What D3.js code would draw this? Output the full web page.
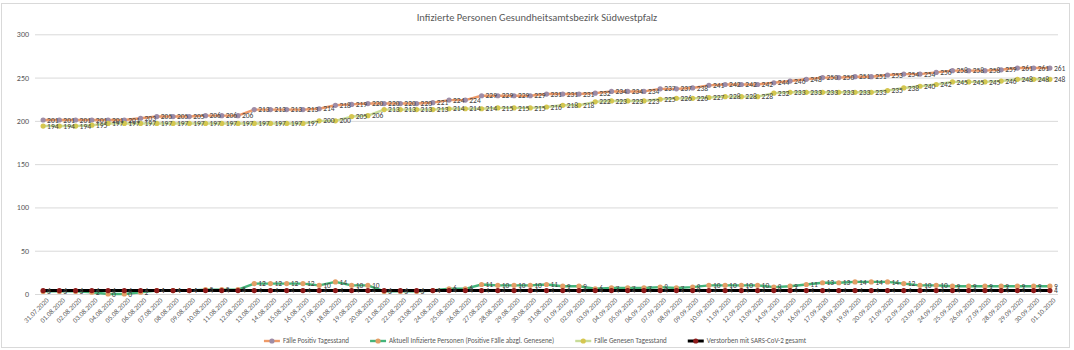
<!DOCTYPE html>
<html>
<head>
<meta charset="utf-8">
<script src="https://cdn.jsdelivr.net/npm/d3@7"></script>
<style>
  body { margin: 0; background: #fff; }
  svg { display: block; font-family: Calibri, Carlito, Lato, "Open Sans", sans-serif; }
</style>
</head>
<body>
<svg id="chart" width="1074" height="350"></svg>
<script>
// Reporting days
const dates = [
  "31.07.2020","01.08.2020","02.08.2020","03.08.2020","04.08.2020","05.08.2020","06.08.2020","07.08.2020",
  "08.08.2020","09.08.2020","10.08.2020","11.08.2020","12.08.2020","13.08.2020","14.08.2020","15.08.2020",
  "16.08.2020","17.08.2020","18.08.2020","19.08.2020","20.08.2020","21.08.2020","22.08.2020","23.08.2020",
  "24.08.2020","25.08.2020","26.08.2020","27.08.2020","28.08.2020","29.08.2020","30.08.2020","31.08.2020",
  "01.09.2020","02.09.2020","03.09.2020","04.09.2020","05.09.2020","06.09.2020","07.09.2020","08.09.2020",
  "09.09.2020","10.09.2020","11.09.2020","12.09.2020","13.09.2020","14.09.2020","15.09.2020","16.09.2020",
  "17.09.2020","18.09.2020","19.09.2020","20.09.2020","21.09.2020","22.09.2020","23.09.2020","24.09.2020",
  "25.09.2020","26.09.2020","27.09.2020","28.09.2020","29.09.2020","30.09.2020","01.10.2020"
];

const yTicks = [0, 50, 100, 150, 200, 250, 300];

const faellePositiv = [
  201,201,201,201,201,201,203,205,205,205,206,206,206,213,213,213,213,214,218,219,220,
  220,220,220,221,224,224,229,229,229,229,231,231,231,232,234,234,234,237,237,238,241,
  242,242,242,244,246,248,250,250,251,251,253,254,254,256,258,258,258,259,261,261,261
];

const aktuellInfiziert = [
  3,3,3,2,0,0,2,4,4,4,5,5,5,12,12,12,12,10,14,10,10,
  3,3,3,4,6,6,11,10,10,10,11,9,9,6,7,7,7,8,7,8,10,
  10,10,10,8,9,11,13,13,14,14,14,12,10,10,9,9,9,9,9,9,9
];

const faelleGenesen = [
  194,194,194,195,197,197,197,197,197,197,197,197,197,197,197,197,197,200,200,205,206,
  213,213,213,213,214,214,214,215,215,215,216,218,218,222,223,223,223,225,226,226,227,
  228,228,228,232,233,233,233,233,233,233,235,238,240,242,245,245,245,246,248,248,248
];

const verstorben = [
  4,4,4,4,4,4,4,4,4,4,4,4,4,4,4,4,4,4,4,4,4,
  4,4,4,4,4,4,4,4,4,4,4,4,4,4,4,4,4,4,4,4,4,
  4,4,4,4,4,4,4,4,4,4,4,4,4,4,4,4,4,4,4,4,4
];

const seriesNames = [
  "Fälle Positiv Tagesstand",
  "Aktuell Infizierte Personen (Positive Fälle abzgl. Genesene)",
  "Fälle Genesen Tagesstand",
  "Verstorben mit SARS-CoV-2 gesamt"
];

const chartTitle = "Infizierte Personen Gesundheitsamtsbezirk Südwestpfalz";

const series = [
  { name: seriesNames[0], values: faellePositiv,    line: "#EE9A68", marker: "#9E8CA6", width: 2.4 },
  { name: seriesNames[1], values: aktuellInfiziert, line: "#44B47A", marker: "#E39E66", width: 2.4 },
  { name: seriesNames[2], values: faelleGenesen,    line: "#C8DC98", marker: "#D5C650", width: 2.4 },
  { name: seriesNames[3], values: verstorben,       line: "#000000", marker: "#8E1B1B", width: 3 }
];

const svg = d3.select("#chart");
const textColor = "#595959";

// outer chart frame
svg.append("rect")
  .attr("x", 1.5).attr("y", 3.5)
  .attr("width", 1068).attr("height", 344)
  .attr("fill", "#fff").attr("stroke", "#d9d9d9");

const x = d3.scalePoint().domain(dates).range([35, 1058]).padding(0.5);
const y = d3.scaleLinear().domain([0, 300]).range([294, 34.3]);

// title
svg.append("text")
  .attr("x", 537).attr("y", 21)
  .attr("text-anchor", "middle")
  .attr("font-size", 10.5)
  .attr("fill", textColor)
  .text(chartTitle);

// gridlines + y axis labels
const yAxis = d3.axisLeft(y).tickValues(yTicks).tickSize(-1023).tickPadding(6);
const gy = svg.append("g").attr("transform", "translate(35,0)").call(yAxis);
gy.select(".domain").remove();
gy.selectAll(".tick line").attr("stroke", "#d9d9d9").attr("stroke-width", 1);
gy.selectAll(".tick text").attr("fill", textColor).attr("font-size", 8)
  .attr("font-family", "Calibri, Carlito, Lato, sans-serif");

// x axis labels (rotated)
const xAxis = d3.axisBottom(x).tickSize(0).tickPadding(0);
const gx = svg.append("g").attr("transform", "translate(0,294)").call(xAxis);
gx.select(".domain").remove();
gx.selectAll(".tick text")
  .attr("fill", textColor)
  .attr("font-size", 7)
  .attr("font-family", "Calibri, Carlito, Lato, sans-serif")
  .attr("text-anchor", "end")
  .attr("dy", "0.35em")
  .attr("transform", "translate(4,5) rotate(-45)");

// lines and markers
const lineGen = (vals) => d3.line()
  .x((d, i) => x(dates[i]))
  .y(d => y(d))(vals);

series.forEach(s => {
  svg.append("path")
    .attr("d", lineGen(s.values))
    .attr("fill", "none")
    .attr("stroke", s.line)
    .attr("stroke-width", s.width)
    .attr("stroke-linejoin", "round");
  svg.append("g").selectAll("circle")
    .data(s.values)
    .join("circle")
    .attr("cx", (d, i) => x(dates[i]))
    .attr("cy", d => y(d))
    .attr("r", 2.6)
    .attr("fill", s.marker);
});

// data labels
series.forEach(s => {
  svg.append("g").selectAll("text")
    .data(s.values)
    .join("text")
    .attr("x", (d, i) => x(dates[i]) + 4)
    .attr("y", d => y(d))
    .attr("dy", "0.35em")
    .attr("font-size", 7.5)
    .attr("fill", "#404040")
    .text(d => d);
});

// legend
const legend = svg.append("g");
const legendY = 341;
let items = [];
series.forEach(s => {
  const g = legend.append("g");
  g.append("line").attr("x1", 0).attr("x2", 16).attr("y1", 0).attr("y2", 0)
    .attr("stroke", s.line).attr("stroke-width", s.width);
  g.append("circle").attr("cx", 8).attr("cy", 0).attr("r", 2.6).attr("fill", s.marker);
  const t = g.append("text").attr("x", 19).attr("y", 0).attr("dy", "0.35em")
    .attr("font-size", 7).attr("fill", textColor).text(s.name);
  items.push({ g, w: 19 + t.node().getComputedTextLength() });
});
const gap = 21;
const total = d3.sum(items, d => d.w) + gap * (items.length - 1);
let lx = 535 - total / 2;
items.forEach(it => {
  it.g.attr("transform", `translate(${lx},${legendY})`);
  lx += it.w + gap;
});
</script>
</body>
</html>
